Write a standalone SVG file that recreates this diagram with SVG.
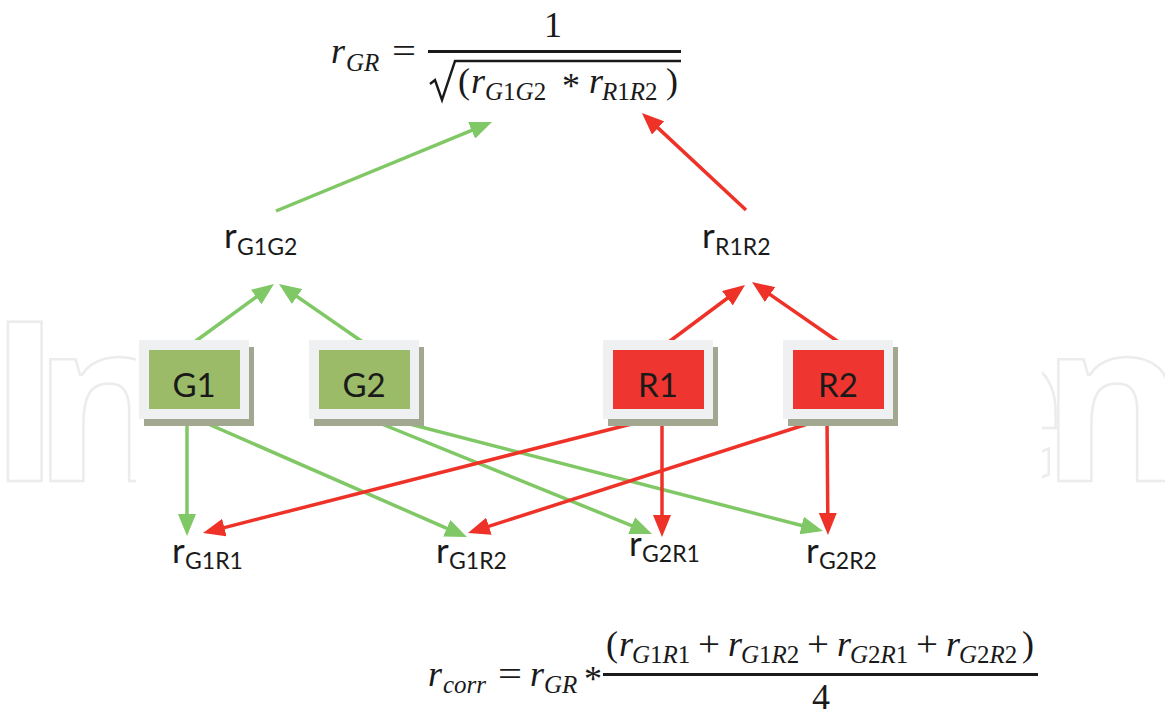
<svg xmlns="http://www.w3.org/2000/svg" width="1165" height="714" viewBox="0 0 1165 714">
<style>
.wm{font-family:"Open Sans","Liberation Sans",sans-serif;font-weight:700;font-size:222px;fill:#ffffff;stroke:#ebecec;stroke-width:2.5}
.math{font-family:"Liberation Serif","DejaVu Serif",serif;font-style:italic;fill:#1a1a1a}
.up{font-style:normal}
.m{font-size:36px}
.s{font-size:25px}
.lbl{font-family:Lato,"Liberation Sans",sans-serif;fill:#1a1a1a}
.big{font-size:35px}
.sub{font-size:23px}
.node{font-family:Lato,"Liberation Sans",sans-serif;font-size:33px;fill:#1a1a1a;text-anchor:middle}
.frame{fill:#eff0f2}
.shadow{fill:#a1a88f}
.gfill{fill:#9bbb69}
.rfill{fill:#ee3530}
.g{stroke:#80c765;stroke-width:3.5;fill:none;marker-end:url(#ag)}
.r{stroke:#ee3228;stroke-width:3.5;fill:none;marker-end:url(#ar)}
</style>
<defs>
<marker id="ag" markerWidth="22" markerHeight="18" refX="2" refY="9" orient="auto" markerUnits="userSpaceOnUse"><path d="M0,0 L22,9 L0,18 z" fill="#80c765"/></marker>
<marker id="ar" markerWidth="22" markerHeight="18" refX="2" refY="9" orient="auto" markerUnits="userSpaceOnUse"><path d="M0,0 L22,9 L0,18 z" fill="#ee3228"/></marker>
<clipPath id="wmclip"><rect x="0" y="280" width="136" height="220"/><rect x="1042" y="280" width="123" height="220"/></clipPath>
</defs>
<rect width="1165" height="714" fill="#ffffff"/>
<g id="watermark" clip-path="url(#wmclip)">
<text class="wm" x="-12 33" y="481">In</text>
<text class="wm" x="934 1041" y="481">en</text>
</g>

<g id="formula-top" class="math">
<text class="m" x="331" y="63">r</text>
<text class="s" x="346" y="71">GR</text>
<text class="m up" x="392" y="63" textLength="24" lengthAdjust="spacingAndGlyphs">=</text>
<line x1="428" y1="51.5" x2="681" y2="51.5" stroke="#1a1a1a" stroke-width="3"/>
<text class="m up" x="553" y="37" text-anchor="middle">1</text>
<polyline points="430,84 435,80 442,100 455,61 681,61" fill="none" stroke="#1a1a1a" stroke-width="2.4"/>
<text class="m up" x="458" y="93">(</text>
<text class="m" x="471" y="93">r</text>
<text class="s" x="485" y="100">G<tspan class="up">1</tspan>G<tspan class="up">2</tspan></text>
<text class="m up" x="562" y="98" font-size="32">*</text>
<text class="m" x="589" y="93">r</text>
<text class="s" x="602" y="100">R<tspan class="up">1</tspan>R<tspan class="up">2</tspan></text>
<text class="m up" x="666" y="93">)</text>
</g>

<g id="formula-bottom" class="math">
<text class="m" x="428" y="686">r</text>
<text class="s" x="443" y="693">corr</text>
<text class="m up" x="498" y="686" textLength="24" lengthAdjust="spacingAndGlyphs">=</text>
<text class="m" x="530" y="686">r</text>
<text class="s" x="544" y="693">GR</text>
<text class="m up" x="584" y="691" font-size="32">*</text>
<line x1="603" y1="674.5" x2="1038" y2="674.5" stroke="#1a1a1a" stroke-width="3"/>
<text class="m up" x="606" y="656">(</text>
<text class="m" x="619" y="656">r</text>
<text class="s" x="632" y="663">G<tspan class="up">1</tspan>R<tspan class="up">1</tspan></text>
<text class="m up" x="698" y="656" textLength="22" lengthAdjust="spacingAndGlyphs">+</text>
<text class="m" x="728" y="656">r</text>
<text class="s" x="741" y="663">G<tspan class="up">1</tspan>R<tspan class="up">2</tspan></text>
<text class="m up" x="807" y="656" textLength="22" lengthAdjust="spacingAndGlyphs">+</text>
<text class="m" x="837" y="656">r</text>
<text class="s" x="850" y="663">G<tspan class="up">2</tspan>R<tspan class="up">1</tspan></text>
<text class="m up" x="916" y="656" textLength="22" lengthAdjust="spacingAndGlyphs">+</text>
<text class="m" x="946" y="656">r</text>
<text class="s" x="959" y="663">G<tspan class="up">2</tspan>R<tspan class="up">2</tspan></text>
<text class="m up" x="1022" y="656">)</text>
<text class="m up" x="821" y="709" text-anchor="middle">4</text>
</g>

<g id="connectors">
<line class="g" x1="276" y1="211" x2="473.5" y2="129.6"/>
<line class="r" x1="746" y1="210" x2="656.6" y2="126.6"/>
<line class="g" x1="189" y1="346" x2="257.8" y2="295.8" stroke-width="4.5"/>
<line class="g" x1="367" y1="345" x2="295.4" y2="295.4"/>
<line class="r" x1="662" y1="347" x2="729" y2="297"/>
<line class="r" x1="840" y1="343" x2="768.4" y2="293.4"/>
<line class="g" x1="187" y1="418" x2="187" y2="516"/>
<line class="g" x1="190" y1="416" x2="448.6" y2="529.1"/>
<line class="g" x1="367" y1="418" x2="633.5" y2="526.4"/>
<line class="g" x1="367" y1="413" x2="803.6" y2="526"/>
<line class="r" x1="655" y1="418" x2="222.4" y2="528.1"/>
<line class="r" x1="662" y1="418" x2="662" y2="517"/>
<line class="r" x1="826" y1="418" x2="487" y2="526.9"/>
<line class="r" x1="827" y1="418" x2="827.8" y2="515"/>
</g>

<g id="node-G1">
<rect class="shadow" x="144" y="347" width="110" height="79"/>
<rect class="frame" x="139" y="340" width="110" height="79"/>
<rect class="gfill" x="149" y="350" width="91" height="59"/>
<text class="node" x="194" y="397">G1</text>
</g>
<g id="node-G2">
<rect class="shadow" x="314" y="347" width="110" height="79"/>
<rect class="frame" x="309" y="340" width="110" height="79"/>
<rect class="gfill" x="319" y="350" width="91" height="59"/>
<text class="node" x="364" y="397">G2</text>
</g>
<g id="node-R1">
<rect class="shadow" x="608" y="347" width="110" height="79"/>
<rect class="frame" x="603" y="340" width="110" height="79"/>
<rect class="rfill" x="613" y="350" width="91" height="59"/>
<text class="node" x="658" y="397">R1</text>
</g>
<g id="node-R2">
<rect class="shadow" x="788" y="347" width="110" height="79"/>
<rect class="frame" x="783" y="340" width="110" height="79"/>
<rect class="rfill" x="793" y="350" width="91" height="59"/>
<text class="node" x="838" y="397">R2</text>
</g>

<g id="label-rG1G2" class="lbl"><text class="big" x="224" y="248">r</text><text class="sub" x="237" y="255">G1G2</text></g>
<g id="label-rR1R2" class="lbl"><text class="big" x="702" y="248">r</text><text class="sub" x="715" y="255">R1R2</text></g>
<g id="label-rG1R1" class="lbl"><text class="big" x="172" y="563">r</text><text class="sub" x="185" y="569">G1R1</text></g>
<g id="label-rG1R2" class="lbl"><text class="big" x="436" y="563">r</text><text class="sub" x="449" y="569">G1R2</text></g>
<g id="label-rG2R1" class="lbl"><text class="big" x="629" y="556">r</text><text class="sub" x="642" y="562">G2R1</text></g>
<g id="label-rG2R2" class="lbl"><text class="big" x="806" y="563">r</text><text class="sub" x="819" y="569">G2R2</text></g>
</svg>
